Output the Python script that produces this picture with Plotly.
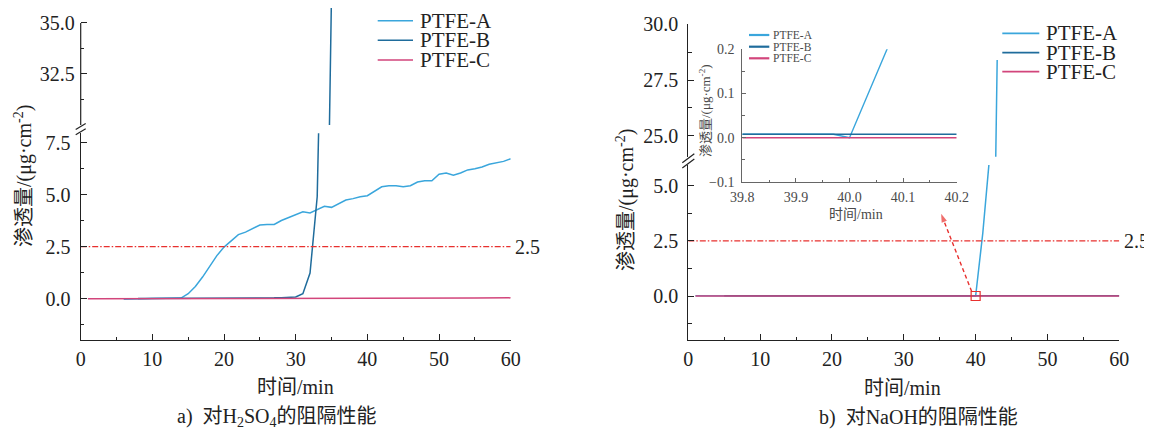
import plotly.graph_objects as go

# page offset of the plot inside the browser (default body margin)
OFF = 8
W, H = 1152 - OFF, 431 - OFF
FONT = "'Liberation Serif', 'Times New Roman', 'Noto Sans CJK SC', serif"
TXT = "#222222"
GREY = "#4a4a4a"
COL_A = "#3aa6dc"
COL_B = "#1f6c9c"
COL_C = "#d2457b"
RED = "#e8302e"

# ---------------- data: panel a (H2SO4) ----------------
t_a_A = [6, 7, 8, 9, 10, 11, 12, 13, 14, 15, 16, 17, 18, 19, 20, 21, 22, 23, 24, 25,
         26, 27, 28, 29, 30, 31, 32, 33, 34, 35, 36, 37, 38, 39, 40, 41, 42, 43, 44, 45,
         46, 47, 48, 49, 50, 51, 52, 53, 54, 55, 56, 57, 58, 59, 60]
a_A = [-0.03, -0.03, -0.02, 0.0, 0.01, 0.01, 0.02, 0.02, 0.03, 0.24, 0.59, 1.04, 1.55, 2.07,
       2.48, 2.80, 3.08, 3.20, 3.36, 3.54, 3.57, 3.57, 3.76, 3.91, 4.05, 4.18, 4.12, 4.29,
       4.44, 4.39, 4.57, 4.74, 4.81, 4.90, 4.95, 5.16, 5.38, 5.43, 5.43, 5.38, 5.43, 5.61,
       5.67, 5.67, 5.98, 6.04, 5.93, 6.04, 6.19, 6.25, 6.33, 6.46, 6.54, 6.60, 6.73]
t_a_B = [8, 9, 10, 11, 12, 13, 14, 15, 16, 17, 18, 19, 20, 21, 22, 23, 24, 25, 26, 27,
         28, 29, 30, 31, 32, 33, 34, 35]
a_B = [0.01, 0.01, 0.02, 0.02, 0.02, 0.02, 0.02, 0.02, 0.02, 0.03, 0.03, 0.03, 0.03, 0.03,
       0.04, 0.04, 0.04, 0.04, 0.04, 0.04, 0.05, 0.05, 0.08, 0.24, 1.23, 4.9, 14.0, 36.5]
t_a_C = [1, 10, 20, 30, 40, 45, 50, 55, 60]
a_C = [0.0, 0.0, 0.0, 0.0, 0.0, 0.01, 0.02, 0.03, 0.04]

# ---------------- data: panel b (NaOH) ----------------
t_b_A = [1, 10, 20, 30, 39, 40, 41, 42, 43]
b_A = [0.008, 0.008, 0.008, 0.008, 0.008, 0.0, 2.86, 6.5, 28.4]
t_b_B = [5, 60]
b_B = [0.008, 0.008]
t_b_C = [1, 60]
b_C = [0.0, 0.0]

# inset (zoom around 40 min)
t_in_A = [39.8, 39.97, 40.0, 41.0]
in_A = [0.008, 0.008, 0.0, 2.86]
t_in_B = [39.8, 40.2]
in_B = [0.008, 0.008]
t_in_C = [39.8, 40.2]
in_C = [0.0, 0.0]

threshold_t = [0, 60]
threshold = [2.5, 2.5]
box_t = [40]
box_v = [0.0]
arrow_t = [39.45, 35.2]
arrow_v = [0.2, 3.72]

names = ["PTFE-A", "PTFE-B", "PTFE-C"]
colors = [COL_A, COL_B, COL_C]


def fx(px):
    return min(1.0, max(0.0, (px - OFF) / W))


def fy(py):
    return min(1.0, max(0.0, 1 - (py - OFF) / H))


fig = go.Figure()

# panel a traces (lower + upper segments of the broken axis)
for xs, ys, c in [(t_a_A, a_A, COL_A), (t_a_B, a_B, COL_B), (t_a_C, a_C, COL_C)]:
    for ya in ["y", "y2"]:
        fig.add_trace(go.Scatter(x=xs, y=ys, mode="lines", line=dict(color=c, width=1.5),
                                 xaxis="x", yaxis=ya, showlegend=False, hoverinfo="skip"))
fig.add_trace(go.Scatter(x=threshold_t, y=threshold, mode="lines",
                         line=dict(color=RED, width=1.3, dash="6px,2px,1.5px,2px"),
                         xaxis="x", yaxis="y", showlegend=False))

# panel b traces
for xs, ys, c in [(t_b_A, b_A, COL_A), (t_b_B, b_B, COL_B), (t_b_C, b_C, COL_C)]:
    for ya in ["y3", "y4"]:
        fig.add_trace(go.Scatter(x=xs, y=ys, mode="lines", line=dict(color=c, width=1.5),
                                 xaxis="x2", yaxis=ya, showlegend=False, hoverinfo="skip"))
fig.add_trace(go.Scatter(x=threshold_t, y=threshold, mode="lines",
                         line=dict(color=RED, width=1.3, dash="6px,2px,1.5px,2px"),
                         xaxis="x2", yaxis="y3", showlegend=False))
fig.add_trace(go.Scatter(x=arrow_t, y=arrow_v, mode="lines+markers",
                         line=dict(color=RED, width=1.4, dash="4px,3px"),
                         marker=dict(symbol=["circle", "arrow"], size=[0, 9], color=RED,
                                     angleref="previous", line=dict(width=0)),
                         xaxis="x2", yaxis="y3", showlegend=False))
fig.add_trace(go.Scatter(x=box_t, y=box_v, mode="markers",
                         marker=dict(symbol="square-open", size=9, color=RED,
                                     line=dict(width=1.2, color=RED)),
                         xaxis="x2", yaxis="y3", showlegend=False))

# inset traces
for xs, ys, c in [(t_in_A, in_A, COL_A), (t_in_B, in_B, COL_B), (t_in_C, in_C, COL_C)]:
    fig.add_trace(go.Scatter(x=xs, y=ys, mode="lines", line=dict(color=c, width=1.4),
                             xaxis="x3", yaxis="y5", showlegend=False, hoverinfo="skip"))

tickfont = dict(family=FONT, size=20, color=TXT)


def ax(**kw):
    d = dict(showgrid=False, zeroline=False, showline=True, linecolor=TXT, linewidth=1.2,
             ticks="inside", ticklen=6, tickwidth=1.2, tickcolor=TXT, tickfont=tickfont,
             automargin=False, fixedrange=True)
    d.update(kw)
    return d


minor_y = dict(ticks="inside", ticklen=3.5, tickwidth=1.2, tickcolor=TXT, dtick=1.25, tick0=0)
minor_x = dict(ticks="inside", ticklen=3.5, tickwidth=1.2, tickcolor=TXT, dtick=5, tick0=0)

layout = dict(
    width=W, height=H, margin=dict(l=0, r=0, t=0, b=0),
    paper_bgcolor="white", plot_bgcolor="white", showlegend=False,
    xaxis=ax(domain=[fx(80.7), fx(510.7)], range=[0, 60], anchor="y", dtick=10, tick0=0,
             minor=minor_x, ticklabelstandoff=1),
    yaxis=ax(domain=[fy(340.3), fy(133.3)], range=[-2, 7.95], anchor="x", dtick=2.5, tick0=0,
             tickformat=".1f", minor=minor_y, ticklabelstandoff=5),
    yaxis2=ax(domain=[fy(125), fy(8)], range=[30.0, 35.73], anchor="x", showline=False,
              tickvals=[32.5, 35.0], tickformat=".1f",
              minor=dict(ticks="inside", ticklen=3.5, tickwidth=1.2, tickcolor=TXT,
                         tickvals=[31.25, 33.75]), ticklabelstandoff=5),
    xaxis2=ax(domain=[fx(688.3), fx(1119.3)], range=[0, 60], anchor="y3", dtick=10, tick0=0,
              minor=minor_x, ticklabelstandoff=1),
    yaxis3=ax(domain=[fy(340.2), fy(165)], range=[-2, 5.93], anchor="x2", dtick=2.5, tick0=0,
              tickformat=".1f", minor=minor_y, ticklabelstandoff=5),
    yaxis4=ax(domain=[fy(156.7), fy(24.3)], range=[24.06, 30], anchor="x2", dtick=2.5, tick0=0,
              tickformat=".1f", minor=minor_y, ticklabelstandoff=5),
    xaxis3=ax(domain=[fx(742.3), fx(956.7)], range=[39.8, 40.2], anchor="y5", dtick=0.1,
              tick0=39.8, tickformat=".1f", linecolor="#666", tickcolor="#666", linewidth=1,
              ticklen=4, tickfont=dict(family=FONT, size=14, color=GREY),
              minor=dict(ticks="inside", ticklen=2.5, tickcolor="#666", dtick=0.05, tick0=39.8),
              ticklabelstandoff=2),
    yaxis5=ax(domain=[fy(182), fy(49.3)], range=[-0.1, 0.2], anchor="x3", dtick=0.1, tick0=0,
              tickformat=".1f", linecolor="#666", tickcolor="#666", linewidth=1, ticklen=4,
              tickfont=dict(family=FONT, size=14, color=GREY),
              minor=dict(ticks="inside", ticklen=2.5, tickcolor="#666", dtick=0.05, tick0=0),
              ticklabelstandoff=4),
)
fig.update_layout(**layout)

shapes = []
# upper-segment axis line of panel a (stops at 35.0)
shapes.append(dict(type="line", xref="paper", yref="y2", x0=fx(80.7), x1=fx(80.7), y0=30.0, y1=35.0,
                   line=dict(color=TXT, width=1.2)))
# break marks
for axx, ytop_gap, ybot_gap, dx, dy in [(80.7, 125, 133.3, 5, 3), (688.3, 156.7, 165, 6, 4.5)]:
    for yc in [ytop_gap + 1.5, ybot_gap - 1.5]:
        shapes.append(dict(type="line", xref="paper", yref="paper",
                           x0=fx(axx - dx), y0=fy(yc + dy), x1=fx(axx + dx), y1=fy(yc - dy),
                           line=dict(color=TXT, width=1.2)))
# legends (line samples + labels)
legend_specs = [
    (377.7, 413, 418, [20.7, 40.3, 60], 21, TXT, 1.6),
    (1002.3, 1039.3, 1044, [33.3, 52.7, 71.7], 21, TXT, 1.8),
    (749, 769.3, 771, [35, 46.7, 58.3], 11.5, GREY, 2.2),
]
annotations = []
for x0, x1, xt, ys, fs, tc, lw in legend_specs:
    for name, c, yy in zip(names, colors, ys):
        shapes.append(dict(type="line", xref="paper", yref="paper", x0=fx(x0), x1=fx(x1),
                           y0=fy(yy), y1=fy(yy), line=dict(color=c, width=lw)))
        annotations.append(dict(text=name, xref="paper", yref="paper", x=fx(xt), y=fy(yy),
                                xanchor="left", yanchor="middle", showarrow=False,
                                font=dict(family=FONT, size=fs, color=tc)))

ytitle = "渗透量/(μg·cm<sup>-2</sup>)"
titles = [
    dict(text=ytitle, x=fx(23), y=fy(176), textangle=-90, font=dict(family=FONT, size=20, color=TXT)),
    dict(text=ytitle, x=fx(625), y=fy(200), textangle=-90, font=dict(family=FONT, size=20, color=TXT)),
    dict(text=ytitle, x=fx(705), y=fy(111), textangle=-90, font=dict(family=FONT, size=13, color=GREY)),
    dict(text="时间/min", x=fx(295), y=fy(387), font=dict(family=FONT, size=20, color=TXT)),
    dict(text="时间/min", x=fx(903), y=fy(388), font=dict(family=FONT, size=20, color=TXT)),
    dict(text="时间/min", x=fx(856), y=fy(214), font=dict(family=FONT, size=14, color=GREY)),
    dict(text="a)\u00a0\u00a0对H<sub>2</sub>SO<sub>4</sub>的阻隔性能", x=fx(277), y=fy(417),
         font=dict(family=FONT, size=20, color=TXT)),
    dict(text="b)\u00a0\u00a0对NaOH的阻隔性能", x=fx(918.5), y=fy(417),
         font=dict(family=FONT, size=20, color=TXT)),
]
for a in titles:
    a.update(xref="paper", yref="paper", showarrow=False, xanchor="center", yanchor="middle")
annotations += titles
annotations += [
    dict(text="2.5", xref="paper", yref="y", x=fx(513), y=2.5, xanchor="left", yanchor="middle",
         showarrow=False, font=dict(family=FONT, size=20, color=TXT)),
    dict(text="2.5", xref="paper", yref="y3", x=fx(1122), y=2.5, xanchor="left", yanchor="middle",
         showarrow=False, font=dict(family=FONT, size=20, color=TXT)),
]
fig.update_layout(shapes=shapes, annotations=annotations)

fig.write_html("out.html")
